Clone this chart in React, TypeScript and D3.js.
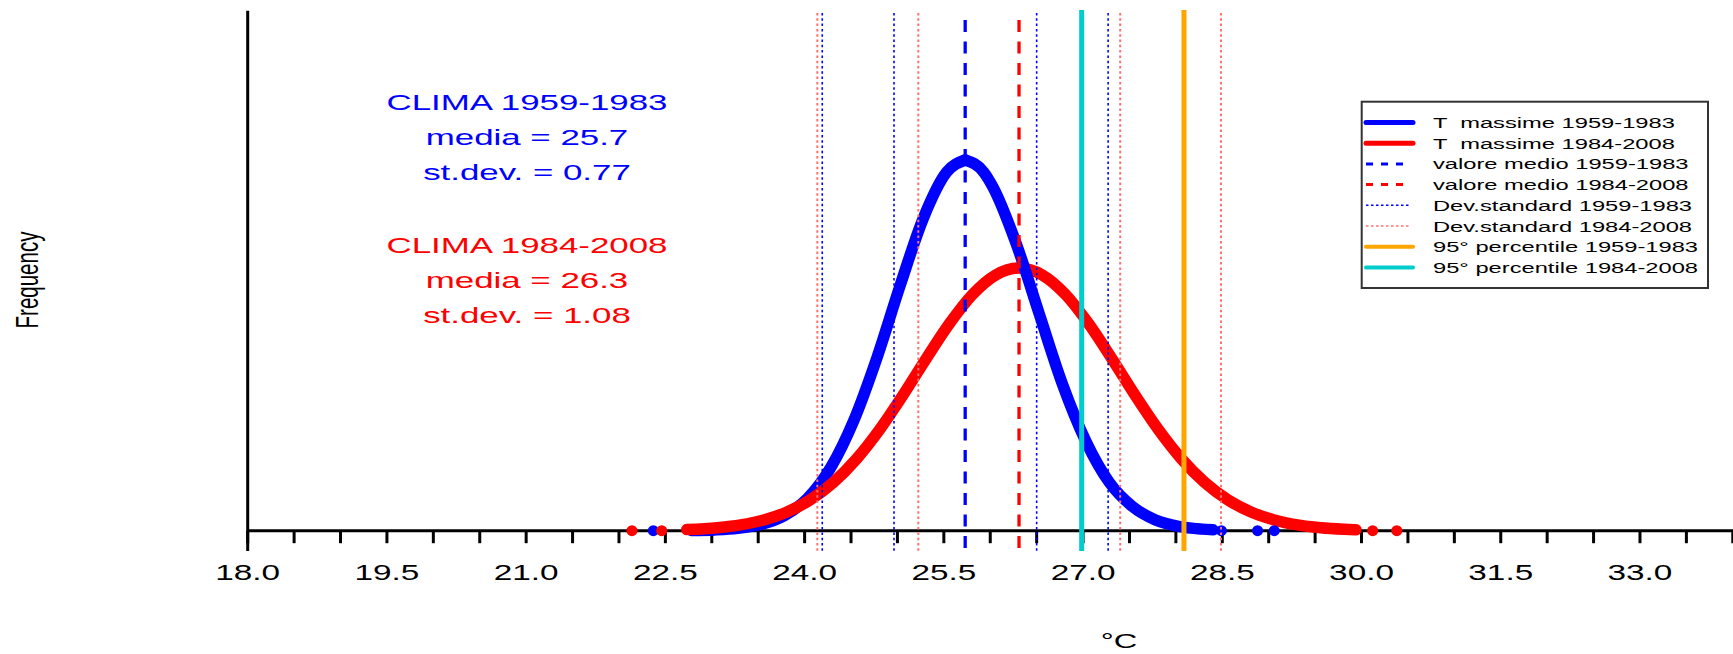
import React from 'react';
import * as d3 from 'd3';

const W = 1733;
const H = 654;
const SX = 1.55; // horizontal stretch of the original picture's text

// Density curve of T massime 1959-1983
const blueX = [22.78, 23.03, 23.28, 23.53, 23.78, 24.03, 24.28, 24.53, 24.78, 25.03, 25.28, 25.53, 25.73, 25.93, 26.03, 26.28, 26.53, 26.78, 27.03, 27.28, 27.53, 27.78, 28.03, 28.28, 28.4];
const blueY = [0.0003, 0.0011, 0.0033, 0.0088, 0.021, 0.045, 0.088, 0.154, 0.242, 0.343, 0.437, 0.501, 0.518, 0.501, 0.48, 0.401, 0.302, 0.204, 0.125, 0.068, 0.034, 0.015, 0.006, 0.0022, 0.0012];
// Density curve of T massime 1984-2008
const redX = [22.73, 23.06, 23.31, 23.56, 23.81, 24.06, 24.31, 24.56, 24.81, 25.06, 25.31, 25.56, 25.81, 26.06, 26.31, 26.56, 26.81, 27.06, 27.31, 27.56, 27.81, 28.06, 28.31, 28.56, 28.81, 29.06, 29.31, 29.56, 29.81, 29.94];
const redY = [0.0016, 0.0042, 0.0081, 0.015, 0.0261, 0.0431, 0.0675, 0.1004, 0.1416, 0.1894, 0.2404, 0.2892, 0.3302, 0.3574, 0.367, 0.3574, 0.3302, 0.2892, 0.2404, 0.1894, 0.1416, 0.1004, 0.0675, 0.0431, 0.0261, 0.015, 0.0081, 0.0042, 0.0021, 0.0014];
// isolated tail points
const blueTailX = [22.37, 28.49, 28.88, 29.06];
const blueTailY = [0, 0, 0, 0];
const redTailX = [22.14, 22.46, 30.12, 30.38];
const redTailY = [0, 0, 0, 0];

const meanBlue = 25.73;
const meanRed = 26.31;
const sdLinesBlue = [24.19, 24.963, 26.5, 27.27];
const sdLinesRed = [24.137, 25.225, 27.4, 28.486];
const p95Cyan = 26.985; // "95° percentile 1984-2008" colour
const p95Orange = 28.087; // "95° percentile 1959-1983" colour

const xTickLabels = ['18.0', '19.5', '21.0', '22.5', '24.0', '25.5', '27.0', '28.5', '30.0', '31.5', '33.0'];
const xLabelValues = [18, 19.5, 21, 22.5, 24, 25.5, 27, 28.5, 30, 31.5, 33];
const xMinorTicks = [18, 18.5, 19, 19.5, 20, 20.5, 21, 21.5, 22, 22.5, 23, 23.5, 24, 24.5, 25, 25.5, 26, 26.5, 27, 27.5, 28, 28.5, 29, 29.5, 30, 30.5, 31, 31.5, 32, 32.5, 33, 33.5, 34];

const legendLabels = [
  'T  massime 1959-1983',
  'T  massime 1984-2008',
  'valore medio 1959-1983',
  'valore medio 1984-2008',
  'Dev.standard 1959-1983',
  'Dev.standard 1984-2008',
  '95° percentile 1959-1983',
  '95° percentile 1984-2008',
];

const statsBlue = ['CLIMA 1959-1983', 'media = 25.7', 'st.dev. = 0.77'];
const statsRed = ['CLIMA 1984-2008', 'media = 26.3', 'st.dev. = 1.08'];

const BLUE = '#0000ff';
const RED = '#ff0000';
const RED_DOT = '#ff7070';
const CYAN = '#00cccc';
const ORANGE = '#ffa500';
const FONT = '"Liberation Sans", Arial, Helvetica, sans-serif';

function SText({ x, y, size, fill = '#000', anchor = 'start', children, sx = SX }: any) {
  return (
    <text
      transform={`translate(${x},${y}) scale(${sx},1)`}
      fontSize={size}
      fill={fill}
      textAnchor={anchor}
      fontFamily={FONT}
      style={{ whiteSpace: 'pre' }}
    >
      {children}
    </text>
  );
}

export default function App() {
  const x = d3.scaleLinear().domain([18, 34]).range([247.7, 1732.8]);
  const y = d3.scaleLinear().domain([0, 0.7266]).range([530.7, 10.7]);
  const axisY = y(0);
  const lineBottom = 551;

  const line = d3
    .line<[number, number]>()
    .x((d) => x(d[0]))
    .y((d) => y(d[1]))
    .curve(d3.curveMonotoneX);

  const bluePts: [number, number][] = blueX.map((v, i) => [v, blueY[i]]);
  const redPts: [number, number][] = redX.map((v, i) => [v, redY[i]]);
  const blueLeft = bluePts.filter((p) => p[0] <= meanBlue);
  const blueRight = bluePts.filter((p) => p[0] >= meanBlue);

  const curveStroke = 11.5;
  const dotR = 5.5;

  const legendX0 = 1366;
  const legendX1 = 1413;
  const legendTextX = 1433;
  const legendRow0 = 122.5;
  const legendStep = 20.7;

  const legendSample = (i: number) => {
    const yy = legendRow0 + i * legendStep;
    switch (i) {
      case 0:
        return <line x1={legendX0} x2={legendX1} y1={yy} y2={yy} stroke={BLUE} strokeWidth={5} strokeLinecap="round" />;
      case 1:
        return <line x1={legendX0} x2={legendX1} y1={yy} y2={yy} stroke={RED} strokeWidth={5} strokeLinecap="round" />;
      case 2:
        return <line x1={legendX0} x2={legendX0 + 38} y1={yy} y2={yy} stroke={BLUE} strokeWidth={3} strokeDasharray="7,8" />;
      case 3:
        return <line x1={legendX0} x2={legendX0 + 38} y1={yy} y2={yy} stroke={RED} strokeWidth={3} strokeDasharray="7,8" />;
      case 4:
        return <line x1={legendX0} x2={legendX0 + 43} y1={yy} y2={yy} stroke={BLUE} strokeWidth={1.5} strokeDasharray="2.5,2.5" />;
      case 5:
        return <line x1={legendX0} x2={legendX0 + 43} y1={yy} y2={yy} stroke={RED_DOT} strokeWidth={1.5} strokeDasharray="2.5,2.5" />;
      case 6:
        return <line x1={legendX0} x2={legendX1} y1={yy} y2={yy} stroke={ORANGE} strokeWidth={4} strokeLinecap="round" />;
      default:
        return <line x1={legendX0} x2={legendX1} y1={yy} y2={yy} stroke={CYAN} strokeWidth={4} strokeLinecap="round" />;
    }
  };

  return (
    <svg
      width={W}
      height={H}
      viewBox={`0 0 ${W} ${H}`}
      style={{ position: 'absolute', left: 0, top: 0, background: '#fff' }}
    >
      <rect x={0} y={0} width={W} height={H} fill="#fff" />

      {/* axes */}
      <line x1={x(18)} x2={x(18)} y1={10.7} y2={lineBottom} stroke="#000" strokeWidth={3} />
      <line x1={x(18)} x2={W} y1={axisY} y2={axisY} stroke="#000" strokeWidth={3} />
      {xMinorTicks.map((t) => (
        <line key={t} x1={x(t)} x2={x(t)} y1={axisY} y2={axisY + 12.5} stroke="#000" strokeWidth={3} />
      ))}
      {xTickLabels.map((lab, i) => (
        <SText key={lab} x={x(xLabelValues[i])} y={580} size={21.5} anchor="middle">
          {lab}
        </SText>
      ))}

      {/* axis titles */}
      <SText x={1119} y={648} size={21} anchor="middle">
        °C
      </SText>
      <text
        transform={`translate(38,280) scale(${SX},1) rotate(-90)`}
        fontSize={20.5}
        textAnchor="middle"
        fontFamily={FONT}
        fill="#000"
      >
        Frequency
      </text>

      {/* curves */}
      <path d={line(blueLeft) || ''} fill="none" stroke={BLUE} strokeWidth={curveStroke} strokeLinecap="round" strokeLinejoin="round" />
      {blueTailX.slice(0, 1).map((v, i) => (
        <circle key={'bl' + i} cx={x(v)} cy={y(blueTailY[i])} r={dotR} fill={BLUE} />
      ))}
      <path d={line(redPts) || ''} fill="none" stroke={RED} strokeWidth={curveStroke} strokeLinecap="round" strokeLinejoin="round" />
      {redTailX.map((v, i) => (
        <circle key={'r' + i} cx={x(v)} cy={y(redTailY[i])} r={dotR} fill={RED} />
      ))}
      <path d={line(blueRight) || ''} fill="none" stroke={BLUE} strokeWidth={curveStroke} strokeLinecap="round" strokeLinejoin="round" />
      {blueTailX.slice(1).map((v, i) => (
        <circle key={'br' + i} cx={x(v)} cy={y(blueTailY[i + 1])} r={dotR} fill={BLUE} />
      ))}

      {/* standard deviation lines */}
      {sdLinesRed.map((v) => (
        <line key={'sr' + v} x1={x(v)} x2={x(v)} y1={13} y2={lineBottom} stroke={RED_DOT} strokeWidth={2} strokeDasharray="2.5,2.8" />
      ))}
      {sdLinesBlue.map((v) => (
        <line key={'sb' + v} x1={x(v)} x2={x(v)} y1={13} y2={lineBottom} stroke={BLUE} strokeWidth={1.6} strokeDasharray="2.5,2.8" />
      ))}

      {/* mean lines */}
      <line x1={x(meanBlue)} x2={x(meanBlue)} y1={20} y2={lineBottom} stroke={BLUE} strokeWidth={3.3} strokeDasharray="12,9.5" />
      <line x1={x(meanRed)} x2={x(meanRed)} y1={20} y2={lineBottom} stroke={RED} strokeWidth={3.3} strokeDasharray="12,9.5" />

      {/* 95th percentile lines */}
      <line x1={x(p95Cyan)} x2={x(p95Cyan)} y1={10} y2={lineBottom} stroke={CYAN} strokeWidth={5} />
      <line x1={x(p95Orange)} x2={x(p95Orange)} y1={10} y2={lineBottom} stroke={ORANGE} strokeWidth={5} />

      {/* statistics text */}
      {statsBlue.map((s, i) => (
        <SText key={s} x={527} y={110 + i * 35} size={22.5} fill={BLUE} anchor="middle">
          {s}
        </SText>
      ))}
      {statsRed.map((s, i) => (
        <SText key={s} x={527} y={252.7 + i * 35.3} size={22.5} fill={RED} anchor="middle">
          {s}
        </SText>
      ))}

      {/* legend */}
      <rect x={1361.7} y={101.7} width={346.3} height={186.3} fill="#fff" stroke="#333" strokeWidth={2} />
      {legendLabels.map((lab, i) => (
        <g key={lab}>
          {legendSample(i)}
          <SText x={legendTextX} y={legendRow0 + i * legendStep + 5.5} size={15.3}>
            {lab}
          </SText>
        </g>
      ))}
    </svg>
  );
}
